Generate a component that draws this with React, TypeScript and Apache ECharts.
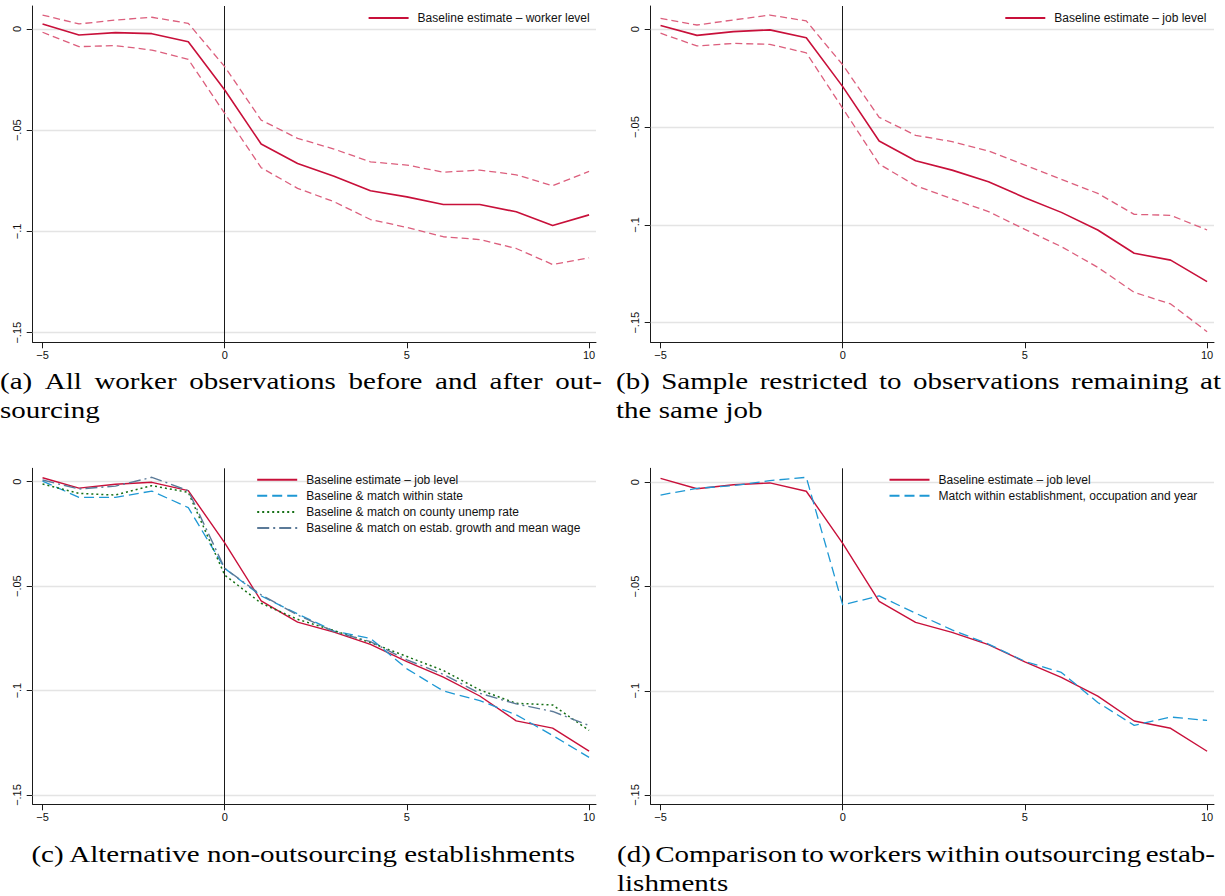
import React, { useEffect, useRef } from "react";
import * as echarts from "echarts";

// ---------- data ----------
const years = [-5, -4, -3, -2, -1, 0, 1, 2, 3, 4, 5, 6, 7, 8, 9, 10];

// (a) worker level
const workerEst = [0.0025, -0.003, -0.0018, -0.0023, -0.0063, -0.0301, -0.0568, -0.0664, -0.0727, -0.0799, -0.0829, -0.0867, -0.0867, -0.0903, -0.097, -0.0918];
const workerUpper = [0.0069, 0.0025, 0.0044, 0.0058, 0.0028, -0.0186, -0.045, -0.054, -0.0593, -0.0656, -0.0672, -0.0707, -0.0697, -0.072, -0.0774, -0.0703];
const workerLower = [-0.0016, -0.0087, -0.0082, -0.0104, -0.015, -0.0417, -0.0685, -0.0787, -0.0853, -0.0941, -0.098, -0.1026, -0.104, -0.1084, -0.1163, -0.113];

// (b) job level
const jobEst = [0.0019, -0.0031, -0.0012, -0.0003, -0.0043, -0.0293, -0.0571, -0.0672, -0.072, -0.0779, -0.0861, -0.0936, -0.1026, -0.1145, -0.118, -0.129];
const jobUpper = [0.0056, 0.0022, 0.0048, 0.0073, 0.0043, -0.0182, -0.045, -0.0542, -0.0574, -0.0622, -0.0694, -0.0767, -0.0839, -0.0946, -0.0951, -0.1026];
const jobLower = [-0.002, -0.0085, -0.0072, -0.0077, -0.012, -0.0404, -0.0689, -0.0799, -0.0867, -0.0932, -0.1023, -0.1111, -0.1217, -0.1345, -0.1404, -0.1546];

// (c) alternative non-outsourcing establishments
const withinState = [0.0003, -0.0075, -0.0075, -0.0045, -0.0124, -0.0415, -0.0547, -0.0633, -0.0715, -0.075, -0.0896, -0.1002, -0.1048, -0.1116, -0.1215, -0.132];
const countyUnemp = [-0.0011, -0.0056, -0.0064, -0.0019, -0.0051, -0.0447, -0.0582, -0.0659, -0.0713, -0.077, -0.0837, -0.0904, -0.0997, -0.1061, -0.1069, -0.1191];
const estabGrowth = [0.0008, -0.0035, -0.0021, 0.0021, -0.0043, -0.0415, -0.0542, -0.0638, -0.0718, -0.0766, -0.0853, -0.0922, -0.1013, -0.1064, -0.11, -0.1167];

// (d) within outsourcing establishments
const withinEstab = [-0.0061, -0.0029, -0.0016, 0.0008, 0.0024, -0.0588, -0.0545, -0.0628, -0.0708, -0.0776, -0.0859, -0.0912, -0.1056, -0.1166, -0.1126, -0.1142];

const xTicks = [-5, 0, 5, 10];
const yTicks = [0, -0.05, -0.1, -0.15];

const nameWorker = "Baseline estimate \u2013 worker level";
const nameJob = "Baseline estimate \u2013 job level";
const nameState = "Baseline & match within state";
const nameCounty = "Baseline & match on county unemp rate";
const nameGrowth = "Baseline & match on estab. growth and mean wage";
const nameEstab = "Match within establishment, occupation and year";

const captionA = ["(a) All worker observations before and after out-", "sourcing"];
const captionB = ["(b) Sample restricted to observations remaining at", "the same job"];
const captionC = ["(c) Alternative non-outsourcing establishments"];
const captionD = ["(d) Comparison to workers within outsourcing estab-", "lishments"];

// ---------- styling ----------
const RED = "#c8103a";
const PINK = "#dc5f7d";
const BLUE = "#1e98d4";
const GREEN = "#167016";
const SLATE = "#5b7a98";
const SANS = "Liberation Sans";
const SERIF = "Liberation Serif";

const grids = [
  { left: 32.7, top: 6, width: 563.3, height: 336.3 },
  { left: 650.7, top: 6, width: 563.3, height: 336.3 },
  { left: 32.7, top: 468.3, width: 563.3, height: 336 },
  { left: 650.7, top: 468.3, width: 563.3, height: 336 },
];
const yRanges = [
  [-0.15474, 0.01136],
  [-0.16002, 0.01191],
  [-0.15445, 0.00641],
  [-0.15446, 0.00672],
];

const fmt = (v: number) => {
  if (Math.abs(v) < 1e-9) return "0";
  let s = String(Math.abs(+v.toFixed(4)));
  s = s.replace(/^0(?=\.)/, "");
  return (v < 0 ? "\u2212" : "") + s;
};

const pairs = (arr: number[]) => years.map((x, i) => [x, arr[i]]);

function lineSeries(name: string, gi: number, arr: number[], color: string, width: number, type: any, withMarks = false) {
  const s: any = {
    name,
    type: "line",
    xAxisIndex: gi,
    yAxisIndex: gi,
    data: pairs(arr),
    showSymbol: false,
    symbol: "none",
    silent: true,
    z: 2,
    lineStyle: { color, width, type },
    itemStyle: { color },
    emphasis: { disabled: true },
  };
  if (withMarks) {
    s.markLine = {
      silent: true,
      symbol: "none",
      z: 1,
      animation: false,
      label: { show: false },
      emphasis: { disabled: true },
      data: [
        ...yTicks.map((v) => ({ yAxis: v, lineStyle: { color: "#e4e4e4", width: 1.4, type: "solid" } })),
        { xAxis: 0, lineStyle: { color: "#1a1a1a", width: 1, type: "solid" } },
      ],
    };
  }
  return s;
}

function measure(text: string, font: string) {
  const c = document.createElement("canvas").getContext("2d")!;
  c.font = font;
  return c.measureText(text).width;
}

export default function App() {
  const ref = useRef<HTMLDivElement>(null);
  useEffect(() => {
    if (!ref.current) return;
    const chart = echarts.init(ref.current, undefined, { renderer: "svg" });

    const xAxis = grids.map((_, i) => ({
      type: "value",
      gridIndex: i,
      min: -5.27,
      max: 10.19,
      axisLine: { show: true, onZero: false, lineStyle: { color: "#1a1a1a", width: 1 } },
      axisTick: { show: true, length: 6, customValues: xTicks, lineStyle: { color: "#1a1a1a", width: 1 } },
      axisLabel: { customValues: xTicks, formatter: (v: number) => fmt(v), fontSize: 11, fontFamily: SANS, color: "#111", margin: 7 },
      splitLine: { show: false },
    }));
    const yAxis = grids.map((_, i) => ({
      type: "value",
      gridIndex: i,
      min: yRanges[i][0],
      max: yRanges[i][1],
      axisLine: { show: true, onZero: false, lineStyle: { color: "#1a1a1a", width: 1 } },
      axisTick: { show: true, length: 6, customValues: yTicks, lineStyle: { color: "#1a1a1a", width: 1 } },
      axisLabel: { customValues: yTicks, rotate: 90, formatter: (v: number) => fmt(v), fontSize: 11, fontFamily: SANS, color: "#111", margin: 10 },
      splitLine: { show: false },
    }));

    const series = [
      lineSeries("ciA_up", 0, workerUpper, PINK, 1.3, [7, 4], true),
      lineSeries("ciA_lo", 0, workerLower, PINK, 1.3, [7, 4]),
      lineSeries(nameWorker, 0, workerEst, RED, 1.6, "solid"),
      lineSeries("ciB_up", 1, jobUpper, PINK, 1.3, [7, 4], true),
      lineSeries("ciB_lo", 1, jobLower, PINK, 1.3, [7, 4]),
      lineSeries(nameJob, 1, jobEst, RED, 1.6, "solid"),
      lineSeries(nameJob, 2, jobEst, RED, 1.4, "solid", true),
      lineSeries(nameState, 2, withinState, BLUE, 1.3, [10, 5]),
      lineSeries(nameCounty, 2, countyUnemp, GREEN, 1.5, [2, 3]),
      lineSeries(nameGrowth, 2, estabGrowth, SLATE, 1.4, [12, 4, 2, 4]),
      lineSeries(nameJob, 3, jobEst, RED, 1.4, "solid", true),
      lineSeries(nameEstab, 3, withinEstab, BLUE, 1.3, [10, 5]),
    ];

    const legendBase = {
      orient: "vertical",
      align: "left",
      itemWidth: 40,
      itemHeight: 14,
      itemGap: 4.1,
      selectedMode: false,
      padding: 0,
      itemStyle: { opacity: 0 },
      textStyle: { fontSize: 12, fontFamily: SANS, color: "#111", padding: [0, 0, 0, 4] },
    };
    const legend = [
      { ...legendBase, data: [nameWorker], left: 367.6, top: 12 },
      { ...legendBase, data: [nameJob], left: 1004.3, top: 12 },
      { ...legendBase, data: [nameJob, nameState, nameCounty, nameGrowth], left: 256.2, top: 473.7 },
      { ...legendBase, data: [nameJob, nameEstab], left: 888.5, top: 473.7 },
    ];

    // captions (justified via measured word widths)
    const FS = 24;
    const font = `${FS}px "${SERIF}"`;
    const cNat = measure(captionC[0], font);
    const sx = 545.6 / cNat;
    const graphics: any[] = [];
    const txt = (text: string, x: number, y: number) => ({
      type: "text",
      x,
      y,
      scaleX: sx,
      silent: true,
      style: { text, fontFamily: SERIF, fontSize: FS, fill: "#000", textAlign: "left", textVerticalAlign: "middle" },
    });
    const addLine = (text: string, x0: number, x1: number | null, y: number, justify: boolean, center = false) => {
      if (justify && x1 !== null) {
        const words = text.split(" ");
        const ws = words.map((w) => measure(w, font) * sx);
        const total = ws.reduce((a, b) => a + b, 0);
        const gap = (x1 - x0 - total) / (words.length - 1);
        let x = x0;
        words.forEach((w, i) => {
          graphics.push(txt(w, x, y));
          x += ws[i] + gap;
        });
      } else {
        const w = measure(text, font) * sx;
        const x = center && x1 !== null ? (x0 + x1) / 2 - w / 2 : x0;
        graphics.push(txt(text, x, y));
      }
    };
    addLine(captionA[0], 0, 602, 381, true);
    addLine(captionA[1], 0, null, 410, false);
    addLine(captionB[0], 616, 1221, 381, true);
    addLine(captionB[1], 616, null, 410, false);
    addLine(captionC[0], 31.4, 577, 853.5, false, true);
    addLine(captionD[0], 617, 1215, 853.5, true);
    addLine(captionD[1], 617, null, 882.5, false);

    chart.setOption({
      animation: false,
      backgroundColor: "#ffffff",
      grid: grids.map((g) => ({ ...g, containLabel: false })),
      xAxis,
      yAxis,
      legend,
      series,
      graphic: graphics,
    });
    return () => chart.dispose();
  }, []);
  return <div ref={ref} style={{ position: "fixed", left: 0, top: 0, width: 1225, height: 896, background: "#fff" }} />;
}
